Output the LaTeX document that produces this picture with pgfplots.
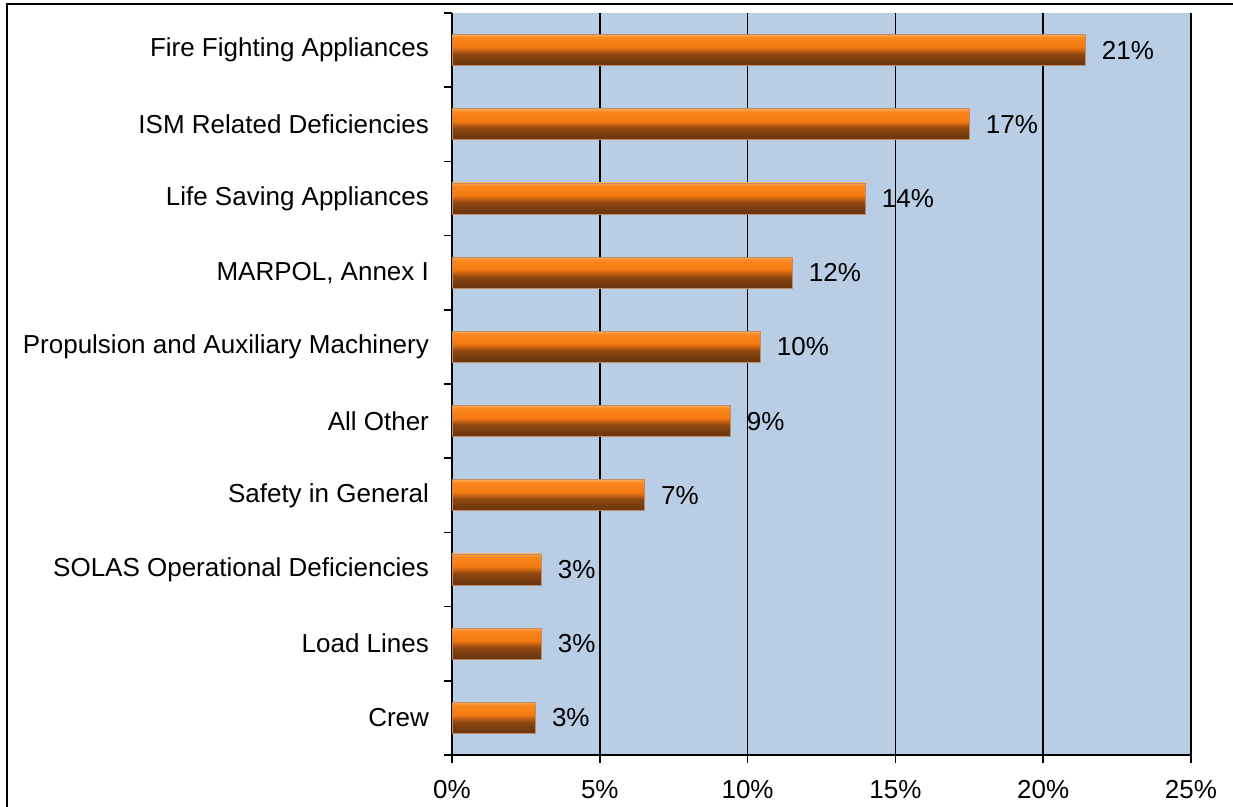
\documentclass[border=0pt]{standalone}
\usepackage{pgfplots}
\pgfplotsset{compat=1.18}
\usepackage{fontspec}
\setmainfont{Liberation Sans}
\definecolor{bgblue}{RGB}{185,205,229}
\definecolor{baredge}{RGB}{190,140,105}
\definecolor{sA}{RGB}{105,52,13}
\definecolor{sB}{RGB}{122,61,15}
\definecolor{sC}{RGB}{145,73,17}
\definecolor{sD}{RGB}{200,98,20}
\definecolor{sE}{RGB}{244,122,18}
\definecolor{sF}{RGB}{250,134,28}
\definecolor{sG}{RGB}{252,165,80}
\pgfdeclareverticalshading{barshade}{100bp}{
  color(0bp)=(sA); color(25bp)=(sA); color(35bp)=(sB); color(44bp)=(sC);
  color(50bp)=(sD); color(55bp)=(sE); color(70bp)=(sF); color(75bp)=(sG);
  color(100bp)=(sG)}

\pgfplotsset{mybar/.style={
    xbar, bar width=15.5pt, bar shift=0pt, draw=baredge, line width=0.3pt,
    shading=barshade,
    mark=none, solid,
    point meta=explicit symbolic,
    nodes near coords={\pgfplotspointmeta\%},
    nodes near coords style={anchor=west, xshift=5pt, text=black, font=\fontsize{13}{15}\selectfont}}}

\begin{document}
\begin{tikzpicture}
\useasboundingbox (0,0) rectangle (616.5pt,403.5pt);
\begin{axis}[
  at={(226pt,26pt)}, anchor=south west,
  scale only axis, width=369.5pt, height=371pt,
  xmin=0, xmax=25, ymin=-0.5, ymax=9.5,
  xtick={0,5,...,25},
  xticklabel={\pgfmathprintnumber{\tick}\%},
  /pgf/number format/assume math mode=true,
  ytick={-0.5,0.5,...,9.5},
  yticklabels={,,,,,,,,,,},
  extra y ticks={0,...,9},
  extra y tick labels={Crew,Load Lines,SOLAS Operational Deficiencies,Safety in General,All Other,{Propulsion and Auxiliary Machinery\hspace{5pt}},{MARPOL, Annex I},Life Saving Appliances,ISM Related Deficiencies,Fire Fighting Appliances},
  extra y tick style={major tick length=0pt, grid=none, yticklabel style={xshift=-8pt}},
  axis x line*=bottom, axis y line*=left,
  axis background/.style={fill=bgblue},
  xmajorgrids,
  major grid style={black, line width=0.8pt},
  axis line style={black, line width=0.8pt, -},
  tick style={black, line width=0.8pt},
  tick align=outside,
  major tick length=4pt,
  tick label style={font=\fontsize{13}{15}\selectfont, text=black},
  xticklabel style={yshift=-5pt},
  clip=false,
]
\addplot[mybar] coordinates {(2.81,0) [3]};
\addplot[mybar] coordinates {(3.01,1) [3]};
\addplot[mybar] coordinates {(3.01,2) [3]};
\addplot[mybar] coordinates {(6.50,3) [7]};
\addplot[mybar] coordinates {(9.40,4) [9]};
\addplot[mybar] coordinates {(10.42,5) [10]};
\addplot[mybar] coordinates {(11.50,6) [12]};
\addplot[mybar] coordinates {(13.97,7) [14]};
\addplot[mybar] coordinates {(17.49,8) [17]};
\addplot[mybar] coordinates {(21.41,9) [21]};
\end{axis}
\draw[black, line width=0.8pt] (3.5pt,0) -- (3.5pt,401.5pt) -- (616.5pt,401.5pt);
\end{tikzpicture}
\end{document}
